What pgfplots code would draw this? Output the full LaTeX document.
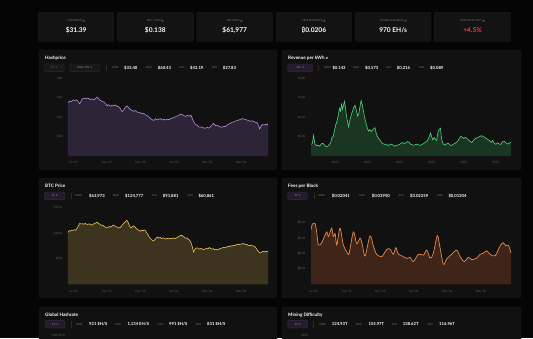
\documentclass[border=0pt]{standalone}
\usepackage{pgfplots}
\usepackage{pgfplotstable}
\pgfplotsset{compat=1.18}
\usepackage{fontspec}
\setmainfont{Lato}
\newfontfamily\symfont{DejaVu Sans}
\newfontfamily\btcfont{Noto Sans}
\newcommand\btc{{\btcfont ₿}}
\newcommand\info{\tikz[baseline=-0.4ex]{\draw[line width=0.18pt] (0,0) circle (0.95pt); \node[inner sep=0, font=\fontsize{1.6}{2}\selectfont\bfseries] at (0,0) {i};}}
\newcommand\dd{{\symfont ▾}}

\definecolor{bgc}{HTML}{050505}
\definecolor{panelc}{HTML}{111111}
\definecolor{panelb}{HTML}{1C1C1C}
\definecolor{cardc}{HTML}{131313}
\definecolor{labgray}{HTML}{7A7A7A}
\definecolor{tickgray}{HTML}{5E5E5E}
\definecolor{boxc}{HTML}{181818}
\definecolor{boxb}{HTML}{2C2C2C}
\definecolor{pboxc}{HTML}{241C2C}
\definecolor{pboxb}{HTML}{3A2E46}
\definecolor{ptext}{HTML}{B28AD6}
\definecolor{hashline}{HTML}{B48CD8}
\definecolor{hashfill}{HTML}{2E2438}
\definecolor{revline}{HTML}{4FD67E}
\definecolor{revfill}{HTML}{1A3522}
\definecolor{btcline}{HTML}{E8C25A}
\definecolor{btcfill}{HTML}{3D3420}
\definecolor{feeline}{HTML}{E8874A}
\definecolor{feefill}{HTML}{3F2519}
\definecolor{redc}{HTML}{EF4444}

\pgfplotstableread{
x y
-0.32 54.5
-0.22 56.5
-0.12 55.8
-0.02 57.5
0.08 56.9
0.18 57.6
0.28 56.2
0.36 53.5
0.44 55.5
0.52 58.5
0.62 59.4
0.72 58.8
0.82 59.5
0.92 58.9
1.02 58.0
1.12 58.6
1.22 57.4
1.32 59.0
1.42 60.4
1.52 58.2
1.62 56.8
1.72 56.0
1.82 55.4
1.92 53.8
2.0 51.5
2.1 52.6
2.2 51.0
2.3 52.1
2.4 51.6
2.5 52.3
2.6 51.0
2.7 50.4
2.8 48.6
2.9 45.5
3.0 47.2
3.1 50.2
3.2 51.5
3.3 49.4
3.4 47.6
3.5 46.8
3.6 45.8
3.7 46.6
3.8 45.1
3.9 44.6
4.0 44.2
4.1 43.3
4.2 43.8
4.3 42.0
4.4 41.2
4.5 40.1
4.6 38.5
4.7 37.2
4.8 36.5
4.9 38.3
5.0 37.1
5.1 37.8
5.2 38.4
5.3 36.9
5.4 37.6
5.5 37.0
5.6 37.8
5.7 37.2
5.8 38.3
5.9 38.9
6.0 39.6
6.1 40.4
6.2 41.0
6.3 41.8
6.4 43.0
6.5 42.2
6.6 41.2
6.7 40.7
6.8 41.6
6.9 40.9
7.0 41.8
7.08 39.0
7.16 35.5
7.26 32.8
7.36 31.5
7.46 30.2
7.56 29.4
7.66 29.9
7.76 28.8
7.86 28.5
7.96 29.3
8.06 28.6
8.16 29.8
8.26 31.8
8.36 33.4
8.46 31.2
8.56 31.7
8.66 30.6
8.76 29.8
8.86 29.5
8.96 30.4
9.06 30.1
9.16 31.6
9.26 32.7
9.36 33.5
9.46 34.6
9.56 35.0
9.66 35.9
9.76 36.3
9.86 36.9
9.96 37.6
10.06 38.4
10.16 37.9
10.26 37.4
10.36 36.8
10.46 36.3
10.56 35.6
10.66 36.1
10.76 35.2
10.86 34.6
10.96 33.8
11.04 31.0
11.1 27.8
11.18 30.5
11.26 32.3
11.36 31.8
11.46 32.4
11.54 31.9
11.6 33.4
}\hashdata

\pgfplotstableread{
x y
2020.25 0.120
2020.29 0.128
2020.33 0.210
2020.37 0.125
2020.42 0.105
2020.47 0.112
2020.52 0.100
2020.57 0.125
2020.62 0.130
2020.67 0.112
2020.72 0.095
2020.77 0.100
2020.82 0.118
2020.86 0.135
2020.90 0.190
2020.94 0.200
2020.98 0.260
2021.02 0.320
2021.06 0.360
2021.10 0.420
2021.14 0.490
2021.17 0.460
2021.20 0.530
2021.23 0.480
2021.26 0.520
2021.29 0.560
2021.32 0.500
2021.35 0.420
2021.38 0.360
2021.42 0.300
2021.46 0.370
2021.50 0.420
2021.54 0.460
2021.58 0.500
2021.62 0.520
2021.66 0.470
2021.70 0.410
2021.74 0.440
2021.78 0.520
2021.81 0.570
2021.84 0.530
2021.88 0.460
2021.92 0.390
2021.96 0.340
2022.00 0.290
2022.04 0.255
2022.08 0.270
2022.12 0.250
2022.16 0.265
2022.20 0.280
2022.24 0.290
2022.28 0.230
2022.32 0.200
2022.36 0.175
2022.40 0.160
2022.45 0.135
2022.50 0.125
2022.55 0.118
2022.60 0.122
2022.65 0.108
2022.70 0.115
2022.75 0.122
2022.80 0.112
2022.85 0.100
2022.90 0.108
2022.95 0.112
2023.00 0.118
2023.05 0.130
2023.10 0.138
2023.15 0.128
2023.20 0.135
2023.25 0.148
2023.30 0.140
2023.35 0.120
2023.40 0.115
2023.45 0.110
2023.50 0.118
2023.55 0.122
2023.60 0.112
2023.65 0.110
2023.70 0.118
2023.75 0.128
2023.80 0.140
2023.85 0.150
2023.90 0.175
2023.94 0.210
2023.97 0.235
2024.00 0.200
2024.04 0.165
2024.08 0.190
2024.12 0.170
2024.16 0.160
2024.19 0.230
2024.22 0.265
2024.25 0.275
2024.28 0.285
2024.30 0.200
2024.33 0.150
2024.37 0.120
2024.42 0.112
2024.47 0.125
2024.52 0.132
2024.57 0.112
2024.62 0.108
2024.67 0.120
2024.72 0.128
2024.77 0.140
2024.82 0.155
2024.87 0.185
2024.91 0.200
2024.95 0.195
2025.00 0.180
2025.05 0.192
2025.10 0.178
2025.15 0.165
2025.20 0.150
2025.25 0.138
2025.30 0.160
2025.35 0.178
2025.40 0.185
2025.45 0.192
2025.50 0.200
2025.55 0.208
2025.60 0.200
2025.65 0.192
2025.70 0.180
2025.75 0.168
2025.80 0.158
2025.85 0.140
2025.90 0.160
2025.95 0.130
2026.00 0.120
2026.05 0.135
2026.10 0.125
2026.15 0.118
2026.20 0.145
2026.25 0.152
2026.30 0.138
2026.35 0.122
2026.40 0.130
2026.44 0.135
2026.47 0.143
}\revdata

\pgfplotstableread{
x y
-0.32 101
-0.25 104.5
-0.18 103.5
-0.10 105.5
-0.02 104.8
0.06 106.5
0.14 105.5
0.22 109
0.30 114
0.38 118.5
0.46 117.5
0.54 118.2
0.62 117
0.70 118.5
0.78 117.2
0.86 116.5
0.94 117.8
1.02 116.5
1.10 115.2
1.18 117
1.26 118.5
1.34 119.5
1.42 121
1.50 118
1.58 117.5
1.66 114.5
1.74 115.5
1.82 113
1.90 111.5
1.98 110
2.06 111.5
2.14 112.5
2.22 111.2
2.30 113.5
2.38 115.5
2.46 114
2.54 112
2.62 111.5
2.70 109.8
2.78 110.5
2.86 113
2.94 117
3.02 119
3.10 122
3.18 124.8
3.26 121
3.34 114
3.42 110
3.50 111.5
3.58 114
3.66 112
3.74 109
3.82 107
3.90 105
3.98 103.5
4.06 105.5
4.14 104
4.22 106
4.30 104.5
4.38 100
4.46 96
4.54 91
4.62 88.5
4.70 86
4.78 84.5
4.86 87
4.94 90.5
5.02 92
5.10 90
5.18 91.5
5.26 89
5.34 90.5
5.42 89.5
5.50 88
5.58 89.5
5.66 88.5
5.74 90
5.82 88.8
5.90 89.5
5.98 90.5
6.06 89
6.14 90.5
6.22 92
6.30 93.5
6.38 95
6.46 95.8
6.54 93
6.62 91.5
6.70 89.5
6.78 90.5
6.86 87.5
6.94 85.5
7.02 80
7.10 72
7.16 63
7.22 67
7.30 70.5
7.38 71
7.46 69.5
7.54 68.5
7.62 70
7.70 68
7.78 67.5
7.86 69
7.94 70.5
8.02 69
8.10 71.5
8.18 70
8.26 68.5
8.34 69.5
8.42 67.5
8.50 68.5
8.58 67
8.66 68
8.74 69.5
8.82 70
8.90 71.5
8.98 72
9.06 71
9.14 72.5
9.22 74
9.30 73.5
9.38 75
9.46 74.5
9.54 76
9.62 75.5
9.70 77
9.78 78
9.86 77.2
9.94 78.5
10.02 78
10.10 79.5
10.18 78.8
10.26 77.5
10.34 77.8
10.42 76
10.50 75.5
10.58 76.5
10.66 75
10.74 74.5
10.82 73.5
10.90 70
10.98 66
11.06 63
11.14 61
11.22 62.5
11.30 64.5
11.38 63
11.46 64.5
11.54 63.5
11.60 64
}\btcdata

\pgfplotstableread{
x y
-0.14 0.0353
-0.06 0.0390
0.10 0.0395
0.20 0.0340
0.30 0.0255
0.50 0.0270
0.70 0.0320
0.80 0.0340
0.90 0.0310
1.00 0.0340
1.10 0.0365
1.19 0.0310
1.30 0.0330
1.40 0.0255
1.59 0.0364
1.79 0.0255
1.99 0.0212
2.13 0.0200
2.39 0.0340
2.59 0.0263
2.79 0.0300
2.93 0.0255
3.09 0.0184
3.38 0.0314
3.58 0.0250
3.78 0.0195
4.08 0.0180
4.38 0.0226
4.58 0.0229
4.78 0.0195
4.92 0.0238
5.08 0.0195
5.28 0.0185
5.58 0.0168
5.77 0.0175
5.97 0.0148
6.27 0.0195
6.57 0.0190
6.77 0.0222
6.97 0.0170
7.16 0.0200
7.40 0.0316
7.56 0.0240
7.76 0.0130
7.96 0.0165
8.26 0.0195
8.56 0.0222
8.76 0.0180
9.01 0.0148
9.25 0.0175
9.45 0.0160
9.75 0.0170
9.95 0.0195
10.15 0.0202
10.35 0.0217
10.55 0.0195
10.85 0.0185
11.15 0.0250
11.34 0.0270
11.48 0.0250
11.64 0.0255
11.80 0.0204
}\feedata

\pgfplotsset{
  dash/.style={
    scale only axis, width=200pt,
    axis line style={draw=none}, tick style={draw=none},
    major tick length=0pt, minor tick num=0,
    ticklabel style={font=\fontsize{3}{3.5}\selectfont, text=tickgray},
    yticklabel style={xshift=-2pt},
    xticklabel style={yshift=-2pt},
    scaled x ticks=false, scaled y ticks=false,
    ymin=0, clip=true,
    /pgf/number format/assume math mode=true,
  },
  monthx/.style={
    xtick={0,2,4,6,8,10},
    xticklabels={Jul '25,Sep '25,Nov '25,Jan '26,Mar '26,May '26},
  },
}

\tikzset{
  panel/.style={fill=panelc, draw=panelb, line width=0.4pt, rounded corners=2.5pt},
  card/.style={fill=cardc, draw=panelb, line width=0.4pt, rounded corners=2pt},
  ttl/.style={anchor=west, inner sep=0, text=white, font=\fontsize{4.6}{5.5}\selectfont\bfseries},
  sk/.style={anchor=west, inner sep=0, text=labgray, font=\fontsize{2.6}{3}\selectfont},
  sv/.style={anchor=west, inner sep=0, text=white, font=\fontsize{4.2}{5}\selectfont\bfseries},
  cl/.style={inner sep=0, text=labgray, font=\fontsize{2.6}{3}\selectfont},
  cv/.style={inner sep=0, text=white, font=\fontsize{6.6}{7.5}\selectfont\bfseries},
  gbox/.style={fill=boxc, draw=boxb, line width=0.35pt, rounded corners=1pt},
  pbox/.style={fill=pboxc, draw=pboxb, line width=0.35pt, rounded corners=1pt},
  bt/.style={inner sep=0, font=\fontsize{2.7}{3}\selectfont},
  sep/.style={draw=boxb, line width=0.4pt},
}

\begin{document}
\begin{tikzpicture}
\begin{scope}[x=1pt,y=-1pt]
\path[use as bounding box] (0,0) rectangle (533,338);
\fill[bgc] (0,0) rectangle (533,338);
\begin{scope}
\clip (0,0) rectangle (533,338);

% stat cards
\foreach \xa/\xb/\lab/\val in {38.3/114/{HASHPRICE}/{\$31.39}, 117.3/193.3/{REV / KWH}/{\$0.138}, 196.7/272.7/{BTC PRICE}/{\$61{,}977}, 276/351.7/{FEES PER BLOCK}/{\btc0.0206}, 355.3/431/{GLOBAL HASHRATE}/{970 EH/s}}{
  \draw[card] (\xa,12.3) rectangle (\xb,41.7);
  \node[cl] at ({(\xa+\xb)/2},20.7) {\lab\ \info};
  \node[cv] at ({(\xa+\xb)/2},30.5) {\val};
}
\draw[card] (434.3,12.3) rectangle (510.7,41.7);
\node[cl] at (472.5,20.7) {NEXT DIFFICULTY \info};
\node[cv, text=redc] at (472.5,30.5) {+4.5\%};

% panels
\draw[panel] (39,50) rectangle (277,170);
\draw[panel] (282,50) rectangle (521,170);
\draw[panel] (39,178) rectangle (277,298);
\draw[panel] (282,178) rectangle (521,298);
\draw[panel] (39,307) rectangle (277,350);
\draw[panel] (282,307) rectangle (521,350);

% ---- Hashprice header
\node[ttl] at (45,57.7) {Hashprice};
\draw[gbox] (44,64) rectangle (64.3,71.4);
\node[bt, text=labgray] at (54,67.7) {1Y\ \ \dd};
\draw[gbox] (69.3,64) rectangle (100,71.4);
\node[bt, text=ptext] at (84.6,67.7) {USD / PH\ \ \dd};
\draw[sep] (106,64.5) -- (106,71);
\node[sk] at (111.7,67.7) {NOW};  \node[sv] at (124,67.7) {\$33.40};
\node[sk] at (145.7,67.7) {MAX};  \node[sv] at (157.7,67.7) {\$60.43};
\node[sk] at (179,67.7) {AVG};    \node[sv] at (190,67.7) {\$42.19};
\node[sk] at (211.7,67.7) {MIN};  \node[sv] at (222.7,67.7) {\$27.83};

% ---- Revenue header
\node[ttl] at (288,57.7) {Revenue per kWh \info};
\draw[pbox] (287.7,64) rectangle (312.7,71.4);
\node[bt, text=ptext] at (300.2,67.7) {ALL\ \ \dd};
\draw[sep] (317.7,64.5) -- (317.7,71);
\node[sk] at (324,67.7) {NOW};  \node[sv] at (332.3,67.7) {\$0.143};
\node[sk] at (353,67.7) {MAX};  \node[sv] at (365,67.7) {\$0.573};
\node[sk] at (386,67.7) {AVG};  \node[sv] at (396.7,67.7) {\$0.216};
\node[sk] at (419,67.7) {MIN};  \node[sv] at (430,67.7) {\$0.089};

% ---- BTC header
\node[ttl] at (45,186) {BTC Price};
\draw[pbox] (44.3,192) rectangle (65,199.4);
\node[bt, text=ptext] at (54.6,195.7) {1Y\ \ \dd};
\draw[sep] (70.7,192.5) -- (70.7,199);
\node[sk] at (75,195.7) {NOW};    \node[sv] at (89,195.7) {\$63,973};
\node[sk] at (112.7,195.7) {MAX}; \node[sv] at (125,195.7) {\$124,777};
\node[sk] at (151.7,195.7) {AVG}; \node[sv] at (162.7,195.7) {\$91,881};
\node[sk] at (187.3,195.7) {MIN}; \node[sv] at (198.3,195.7) {\$60,861};

% ---- Fees header
\node[ttl] at (288,186) {Fees per Block};
\draw[pbox] (287.7,192) rectangle (307.3,199.4);
\node[bt, text=ptext] at (297.5,195.7) {1Y\ \ \dd};
\draw[sep] (314.3,192.5) -- (314.3,199);
\node[sk] at (318,195.7) {NOW};   \node[sv] at (331.7,195.7) {\btc0.02041};
\node[sk] at (359,195.7) {MAX};   \node[sv] at (371.7,195.7) {\btc0.03950};
\node[sk] at (398.3,195.7) {AVG}; \node[sv] at (410,195.7) {\btc0.02259};
\node[sk] at (437.3,195.7) {MIN}; \node[sv] at (448.3,195.7) {\btc0.01304};

% ---- Hashrate header
\node[ttl] at (45,315) {Global Hashrate};
\draw[pbox] (45,320.6) rectangle (65,328);
\node[bt, text=ptext] at (55,324.3) {1Y\ \ \dd};
\draw[sep] (70.7,321) -- (70.7,327.6);
\node[sk] at (75.7,324.3) {NOW};  \node[sv] at (89,324.3) {921 EH/S};
\node[sk] at (115,324.3) {MAX};   \node[sv] at (127.3,324.3) {1,134 EH/S};
\node[sk] at (157.7,324.3) {AVG}; \node[sv] at (169,324.3) {991 EH/S};
\node[sk] at (195.7,324.3) {MIN}; \node[sv] at (207,324.3) {831 EH/S};
\node[inner sep=0, text=tickgray, font=\fontsize{3}{3.5}\selectfont] at (58.3,335) {1200 EH/s};

% ---- Difficulty header
\node[ttl] at (288,315) {Mining Difficulty};
\draw[pbox] (287.7,320.6) rectangle (307.7,328);
\node[bt, text=ptext] at (297.7,324.3) {1Y\ \ \dd};
\draw[sep] (313.3,321) -- (313.3,327.6);
\node[sk] at (318.7,324.3) {NOW};  \node[sv] at (331.7,324.3) {124.93T};
\node[sk] at (355.7,324.3) {MAX};  \node[sv] at (368.3,324.3) {155.97T};
\node[sk] at (391.7,324.3) {AVG};  \node[sv] at (402.7,324.3) {138.62T};
\node[sk] at (427.3,324.3) {MIN};  \node[sv] at (439,324.3) {116.96T};
\node[inner sep=0, text=tickgray, font=\fontsize{3}{3.5}\selectfont] at (305,335) {200T};
\end{scope}
\end{scope}

% ---- Hashprice axis
\begin{axis}[dash, monthx, at={(68pt,-156pt)}, anchor=south west, height=78pt,
  xmin=-0.32, xmax=11.6, ymax=80,
  ytick={20,40,60,80}, yticklabels={\$20,\$40,\$60,\$80}]
\addplot[fill=hashfill, draw=none] table {\hashdata} \closedcycle;
\addplot[hashline, line width=0.6pt] table {\hashdata};
\end{axis}

% ---- Revenue axis
\begin{axis}[dash, at={(311pt,-156pt)}, anchor=south west, height=78pt,
  xmin=2020.25, xmax=2026.47, ymax=0.8,
  xtick={2021,2022,2023,2024,2025,2026},
  xticklabels={2021,2022,2023,2024,2025,2026},
  ytick={0.2,0.4,0.6,0.8}, yticklabels={\$0.20,\$0.40,\$0.60,\$0.80}]
\addplot[fill=revfill, draw=none] table {\revdata} \closedcycle;
\addplot[revline, line width=0.6pt] table {\revdata};
\end{axis}

% ---- BTC axis
\begin{axis}[dash, monthx, at={(68pt,-284.3pt)}, anchor=south west, height=77pt,
  xmin=-0.32, xmax=11.6, ymax=150,
  ytick={50,100,150}, yticklabels={\$50k,\$100k,\$150k}]
\addplot[fill=btcfill, draw=none] table {\btcdata} \closedcycle;
\addplot[btcline, line width=0.6pt] table {\btcdata};
\end{axis}

% ---- Fees axis
\begin{axis}[dash, monthx, at={(311pt,-284.3pt)}, anchor=south west, height=77pt,
  xmin=-0.14, xmax=11.8, ymax=0.05,
  ytick={0.01,0.02,0.03,0.04},
  yticklabels={\btc0.01,\btc0.02,\btc0.03,\btc0.04}]
\addplot[fill=feefill, draw=none, smooth] table {\feedata} \closedcycle;
\addplot[feeline, line width=0.7pt, smooth] table {\feedata};
\end{axis}
\end{tikzpicture}
\end{document}
